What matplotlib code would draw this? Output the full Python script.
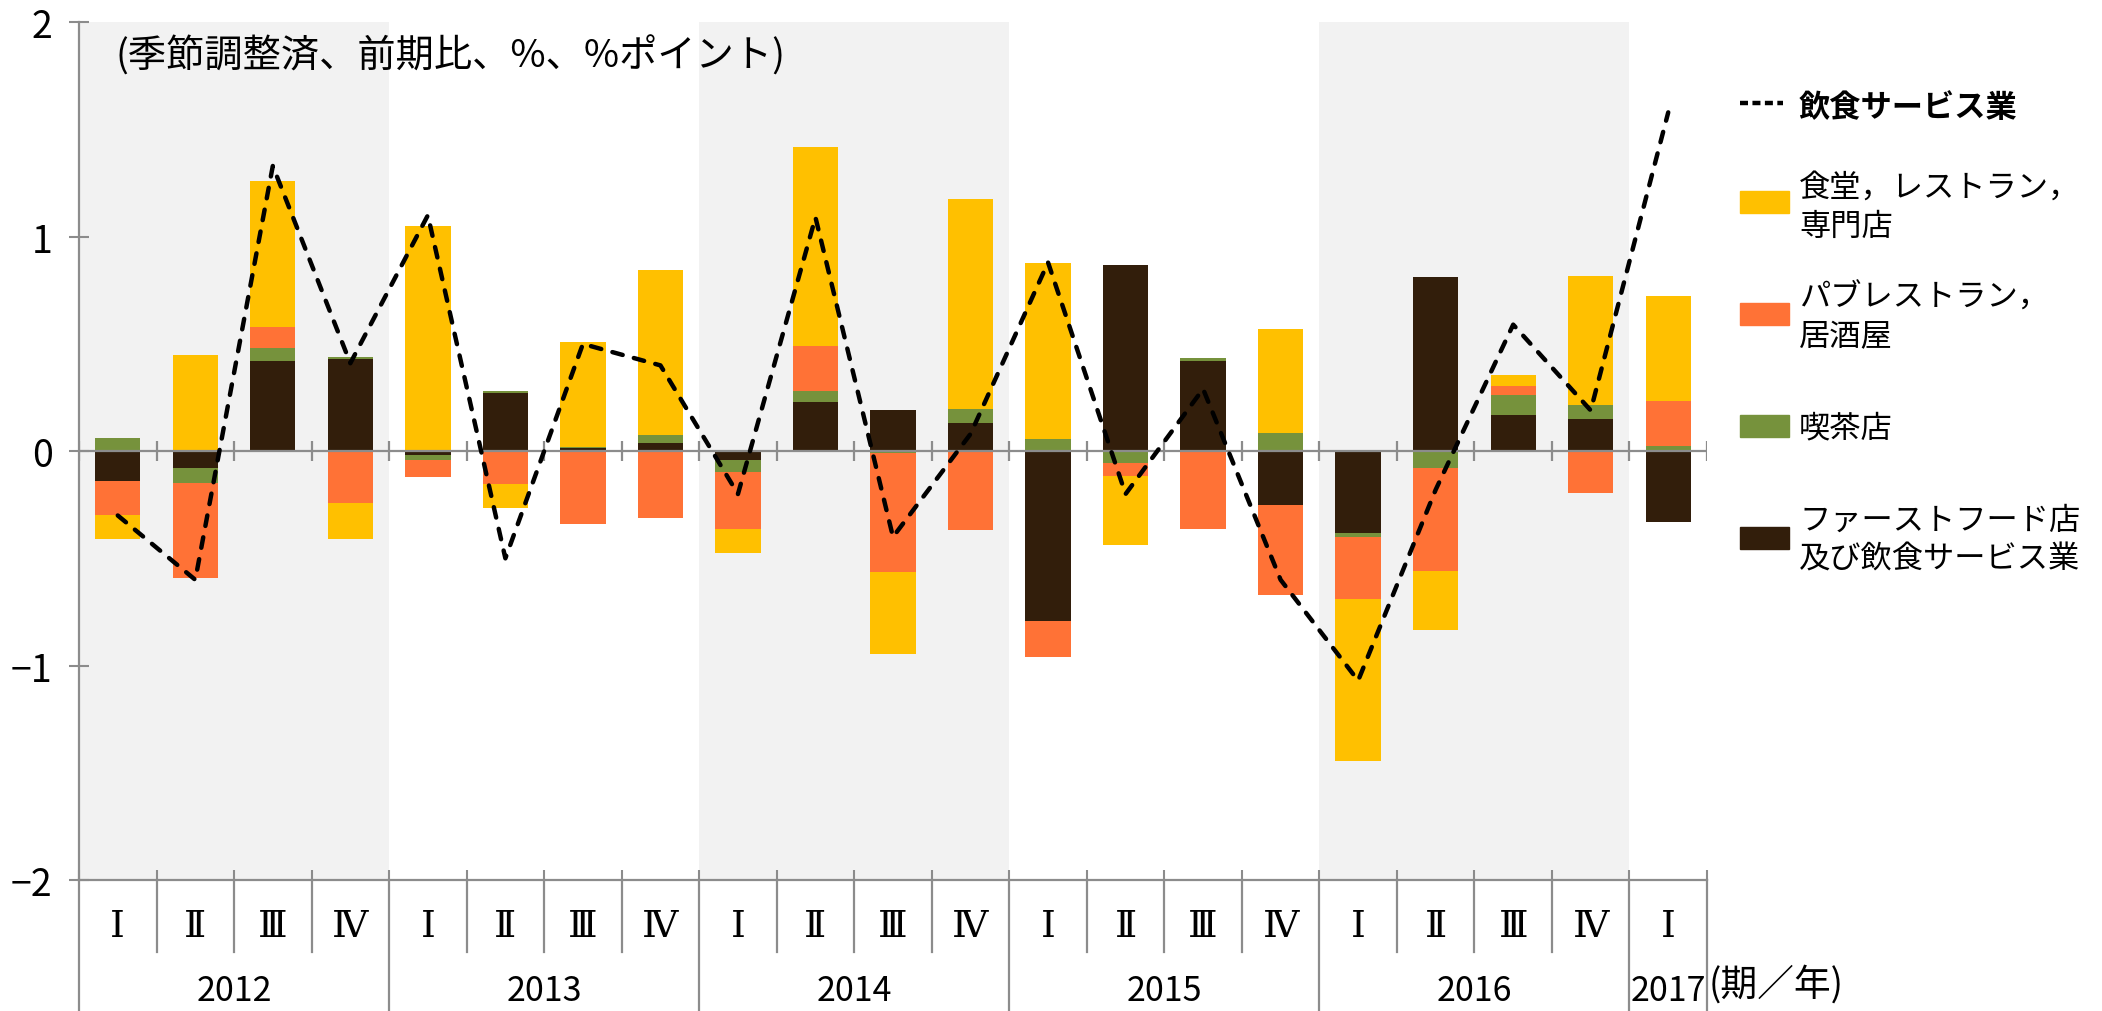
import numpy as np
import matplotlib
matplotlib.use("Agg")
import matplotlib.pyplot as plt
import matplotlib.transforms as mtransforms
from matplotlib.patches import Rectangle
from matplotlib.lines import Line2D

plt.rcParams['font.family'] = ['Noto Sans CJK JP', 'DejaVu Sans']

# --- data (contributions, % points) ---
quarters = ['Ⅰ', 'Ⅱ', 'Ⅲ', 'Ⅳ'] * 5 + ['Ⅰ']
years = ['2012', '2013', '2014', '2015', '2016', '2017']
year_len = [4, 4, 4, 4, 4, 1]

fastfood = [-0.14, -0.08, 0.42, 0.43, -0.02, 0.27, 0.015, 0.04, -0.04, 0.23, 0.19,
            0.13, -0.79, 0.87, 0.42, -0.25, -0.38, 0.81, 0.17, 0.15, -0.33]
cafe = [0.06, -0.07, 0.06, 0.01, -0.02, 0.01, 0.005, 0.035, -0.055, 0.05, -0.01,
        0.065, 0.056, -0.056, 0.015, 0.084, -0.02, -0.08, 0.093, 0.067, 0.025]
pub = [-0.16, -0.44, 0.10, -0.24, -0.08, -0.155, -0.34, -0.31, -0.27, 0.21, -0.555,
       -0.37, -0.17, -0.06, -0.365, -0.42, -0.29, -0.48, 0.042, -0.196, 0.21]
restaurant = [-0.11, 0.45, 0.68, -0.17, 1.05, -0.11, 0.49, 0.77, -0.11, 0.93, -0.38,
              0.98, 0.82, -0.32, 0.0, 0.485, -0.755, -0.275, 0.052, 0.60, 0.49]
total = [-0.30, -0.60, 1.33, 0.41, 1.10, -0.50, 0.50, 0.40, -0.20, 1.09, -0.40,
         0.08, 0.88, -0.20, 0.29, -0.60, -1.07, -0.18, 0.59, 0.19, 1.58]

labels = ['ファーストフード店\n及び飲食サービス業', '喫茶店', 'パブレストラン，\n居酒屋',
          '食堂，レストラン，\n専門店']
colors = ['#321E0B', '#76923C', '#FF7236', '#FFC000']
line_label = '飲食サービス業'

GRAY = '#8C8C8C'

fig = plt.figure(figsize=(21.02, 10.12), dpi=100)
W, H = 2102, 1012
ax = fig.add_axes([79 / W, 1 - 881 / H, (1707 - 79) / W, (881 - 23.3) / H])

n = len(quarters)
x = np.arange(n)

# shaded year bands
start = 0
for i, ln in enumerate(year_len):
    if i % 2 == 0:
        ax.axvspan(start - 0.5, start + ln - 0.5, color='#F2F2F2', zorder=0, lw=0)
    start += ln

# stacked bars
pos_bottom = np.zeros(n)
neg_bottom = np.zeros(n)
for vals, c in zip([fastfood, cafe, pub, restaurant], colors):
    v = np.array(vals)
    bottom = np.where(v >= 0, pos_bottom, neg_bottom)
    ax.bar(x, v, 0.585, bottom=bottom, color=c, edgecolor='none', zorder=2)
    pos_bottom += np.clip(v, 0, None)
    neg_bottom += np.clip(v, None, 0)

ax.plot(x, total, color='black', lw=3.2, ls=(0, (2.4, 2.6)),
        dash_capstyle='round', zorder=4)

# zero line with ticks
ax.axhline(0, color=GRAY, lw=1.6, zorder=3)
bounds = np.arange(n + 1) - 0.5
ax.vlines(bounds, -0.047, 0.047, color=GRAY, lw=1.6, zorder=3)

ax.set_xlim(-0.5, n - 0.5)
ax.set_ylim(-2, 2)
ax.set_yticks([-2, -1, 0, 1, 2])
ax.set_yticklabels(['\u22122', '\u22121', '0', '1', '2'])
ax.tick_params(axis='y', direction='inout', length=14, width=1.5, color=GRAY,
               labelsize=27, pad=12)
ax.set_xticks(bounds)
ax.set_xticklabels([])
ax.tick_params(axis='x', direction='in', length=7, width=1.5, color=GRAY)
for s in ['top', 'right']:
    ax.spines[s].set_visible(False)
for s in ['left', 'bottom']:
    ax.spines[s].set_color(GRAY)
    ax.spines[s].set_linewidth(1.6)

# category separators below the axis
trans = mtransforms.blended_transform_factory(ax.transData, ax.transAxes)
year_edges = np.cumsum([0] + year_len) - 0.5
for b in bounds:
    bot = -0.153 if b in year_edges else -0.084
    ax.plot([b, b], [0, bot], color=GRAY, lw=1.6, transform=trans, clip_on=False)

for i, q in enumerate(quarters):
    ax.text(i, -0.054, q, transform=trans, ha='center', va='center', fontsize=27,
            family=['DejaVu Serif', 'Noto Sans CJK JP'])
start = 0
for yr, ln in zip(years, year_len):
    ax.text(start + (ln - 1) / 2, -0.129, yr, transform=trans, ha='center',
            va='center', fontsize=24.5)
    start += ln

ax.text(-0.035, 1.843, '(季節調整済、前期比、%、%ポイント)', fontsize=27.5,
        ha='left', va='center')
fig.text(1709 / W, 1 - 985 / H, '(期／年)', fontsize=26.5, ha='left', va='center')

# legend (manual)
def fx(px):
    return px / W

def fy(py):
    return 1 - py / H

fig.add_artist(Line2D([fx(1740), fx(1783)], [fy(104), fy(104)], color='black',
                      lw=3.2, ls=(0, (1.8, 1.0))))
fig.text(fx(1799), fy(108), line_label, fontsize=22.5, fontweight='bold',
         ha='left', va='center')
entries = [(3, 203, 207), (2, 315, 317), (1, 427, 428), (0, 539, 540)]
for k, pc, tc in entries:
    fig.add_artist(Rectangle((fx(1740), fy(pc + 11)), fx(49), 22 / H,
                             color=colors[k], transform=fig.transFigure))
    fig.text(fx(1799), fy(tc), labels[k], fontsize=22.5, ha='left', va='center',
             linespacing=1.3)

fig.savefig('out.png', dpi=100)
